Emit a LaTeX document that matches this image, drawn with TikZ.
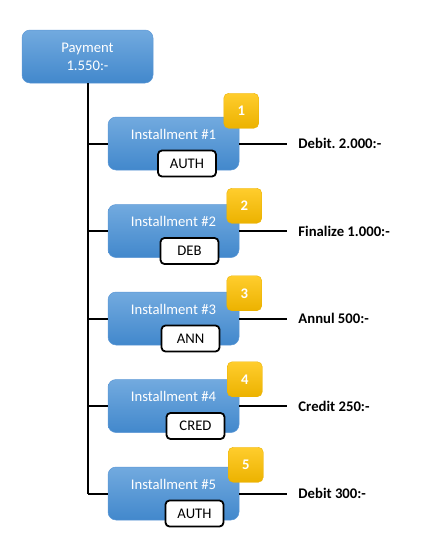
\documentclass[tikz,border=0pt]{standalone}
\usepackage{fontspec}
\setmainfont{Carlito}
\usetikzlibrary{positioning, calc}
\definecolor{boxtop}{RGB}{114,170,223}
\definecolor{boxbot}{RGB}{66,136,204}
\definecolor{boxline}{RGB}{92,152,214}
\definecolor{badgetop}{RGB}{255,205,45}
\definecolor{badgebot}{RGB}{236,178,0}
\frenchspacing

\begin{document}
\begin{tikzpicture}[x=1pt, y=-1pt,
    font=\fontsize{14.7}{18}\selectfont,
    bluebox/.style={rounded corners=8pt, top color=boxtop, bottom color=boxbot,
        draw=boxline, line width=0.5pt, text=white, minimum width=131pt, inner sep=0pt},
    instbox/.style={bluebox, text height=22pt, text depth=31pt},
    statebox/.style={draw, line width=1.8pt, rounded corners=4pt, fill=white,
        minimum width=58pt, minimum height=26pt, inner sep=0pt},
    badge/.style={rounded corners=5pt, top color=badgetop, bottom color=badgebot,
        draw=badgebot, text=white, font=\fontsize{14.7}{18}\selectfont\bfseries,
        minimum size=35pt, inner sep=0pt},
    amount/.style={font=\fontsize{14.7}{18}\selectfont\bfseries, inner xsep=11pt, inner ysep=0pt},
    branch/.style={line width=2pt}]

    \useasboundingbox (0,0) rectangle (426,560);

    \node[bluebox, align=center, minimum height=53pt] (pay) at (87.5,56.5) {Payment\\1.550:-};

    \node[instbox] (inst1) at (173.5,143.5) {Installment \#1};
    \foreach \i [remember=\i as \prev (initially 1)] in {2,...,5}
        \node[instbox, below=34pt of inst\prev] (inst\i) {Installment \#\i};

    \draw[branch] (pay.south) -- (pay.south |- inst5.west);

    \foreach \i/\state/\amt/\sx/\bx/\by in {1/AUTH/Debit. 2.000:-/13.5/2/-6,
            2/DEB/Finalize 1.000:-/16/5/1.5, 3/ANN/Annul 500:-/17/5/1.5,
            4/CRED/Credit 250:-/22/5.5/0, 5/AUTH/Debit 300:-/21/6.5/-2}
    {
        \node[statebox] (state\i) at ($(inst\i.center)+(\sx,20)$) {\state};
        \node[badge] (badge\i) at ($(inst\i.north east)+(\bx,\by)$) {\i};
        \node[amount, right=48pt of inst\i] (amt\i) {\amt};
        \draw[branch] (inst\i) -- (amt\i);
        \draw[branch] (pay.south |- inst\i.west) -- (inst\i.west);
    }
\end{tikzpicture}
\end{document}
